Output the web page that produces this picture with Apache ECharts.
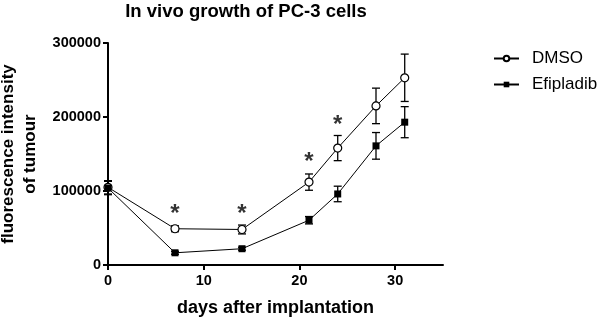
<!DOCTYPE html>
<html>
<head>
<meta charset="utf-8">
<script src="https://cdn.jsdelivr.net/npm/echarts@6/dist/echarts.min.js"></script>
<style>
  html, body { margin: 0; padding: 0; background: #fff; }
  #chart { width: 600px; height: 324px; }
</style>
</head>
<body>
<div id="chart"></div>
<script>
const days = [0, 7, 14, 21, 24, 28, 31];
const dmso = [105000, 49000, 48000, 112000, 158000, 215000, 253000];
const dmsoErr = [9000, 4000, 6000, 11000, 17000, 24000, 32000];
const efipladib = [104000, 16500, 22000, 60500, 96000, 161000, 193000];
const efipladibErr = [9000, 2000, 2000, 5000, 10500, 18000, 21000];
const sigDays = [7, 14, 21, 24];
const sigY = [75700, 75700, 145500, 196000];
const xTicks = [0, 10, 20, 30];

const font = 'Liberation Sans, Arial, sans-serif';

function pairs(ys) {
    return days.map((d, i) => [d, ys[i]]);
}
function errRows(ys, errs) {
    return days.map((d, i) => [d, ys[i] - errs[i], ys[i] + errs[i]]);
}

function errorBars(ys, errs) {
    return {
        type: 'custom',
        data: errRows(ys, errs),
        z: 1,
        silent: true,
        renderItem: function (params, api) {
            const lo = api.coord([api.value(0), api.value(1)]);
            const hi = api.coord([api.value(0), api.value(2)]);
            const w = 4;
            const style = { stroke: '#000', lineWidth: 1.3 };
            return {
                type: 'group',
                children: [
                    { type: 'line', shape: { x1: lo[0], y1: lo[1], x2: hi[0], y2: hi[1] }, style: style },
                    { type: 'line', shape: { x1: lo[0] - w, y1: lo[1], x2: lo[0] + w, y2: lo[1] }, style: style },
                    { type: 'line', shape: { x1: hi[0] - w, y1: hi[1], x2: hi[0] + w, y2: hi[1] }, style: style }
                ]
            };
        }
    };
}

const chart = echarts.init(document.getElementById('chart'));
chart.setOption({
    animation: false,
    title: {
        text: 'In vivo growth of PC-3 cells',
        left: 241,
        textAlign: 'center',
        top: -3,
        textStyle: { fontFamily: font, fontWeight: 'bold', fontSize: 18.5, color: '#000' }
    },
    legend: {
        orient: 'vertical',
        left: 493,
        top: 50,
        padding: 0,
        itemWidth: 25,
        itemHeight: 7,
        itemGap: 9,
        data: ['DMSO', 'Efipladib'],
        textStyle: { fontFamily: font, fontSize: 17, color: '#000', padding: [0, 0, 0, 8] }
    },
    grid: { left: 108, top: 43, right: 157, bottom: 59, outerBoundsMode: 'none' },
    xAxis: {
        type: 'value',
        min: 0,
        max: 35,
        interval: 10,
        name: 'days after implantation',
        nameLocation: 'middle',
        nameGap: 34,
        nameTextStyle: { fontFamily: font, fontWeight: 'bold', fontSize: 18, color: '#000' },
        axisLine: { onZero: false, lineStyle: { color: '#000', width: 2 } },
        axisTick: { show: true, length: 5, customValues: xTicks, lineStyle: { color: '#000', width: 2 } },
        axisLabel: { customValues: xTicks, fontFamily: font, fontWeight: 'bold', fontSize: 14.5, color: '#000', margin: 8 },
        splitLine: { show: false }
    },
    yAxis: {
        type: 'value',
        min: 0,
        max: 300000,
        interval: 100000,
        name: 'fluorescence intensity\nof tumour',
        nameLocation: 'middle',
        nameGap: 66,
        nameTextStyle: { fontFamily: font, fontWeight: 'bold', fontSize: 17, color: '#000', lineHeight: 22 },
        axisLine: { show: true, lineStyle: { color: '#000', width: 2 } },
        axisTick: { show: true, length: 5, lineStyle: { color: '#000', width: 2 } },
        axisLabel: {
            formatter: v => String(v),
            fontFamily: font, fontWeight: 'bold', fontSize: 14.5, color: '#000', margin: 7
        },
        splitLine: { show: false }
    },
    series: [
        errorBars(dmso, dmsoErr),
        errorBars(efipladib, efipladibErr),
        {
            name: 'DMSO',
            type: 'line',
            data: pairs(dmso),
            symbol: 'circle',
            symbolSize: 8,
            z: 3,
            lineStyle: { color: '#000', width: 1 },
            itemStyle: { color: '#fff', borderColor: '#000', borderWidth: 1.2 }
        },
        {
            name: 'Efipladib',
            type: 'line',
            data: pairs(efipladib),
            symbol: 'rect',
            symbolSize: 7,
            z: 3,
            lineStyle: { color: '#000', width: 1 },
            itemStyle: { color: '#000' }
        },
        {
            type: 'scatter',
            data: sigDays.map((d, i) => [d, sigY[i]]),
            symbolSize: 1,
            itemStyle: { color: 'rgba(0,0,0,0)' },
            silent: true,
            label: {
                show: true,
                position: 'inside',
                formatter: '*',
                offset: [0, 5],
                fontFamily: font,
                fontWeight: 'bold',
                fontSize: 24,
                color: '#000'
            }
        }
    ]
});
</script>
</body>
</html>
